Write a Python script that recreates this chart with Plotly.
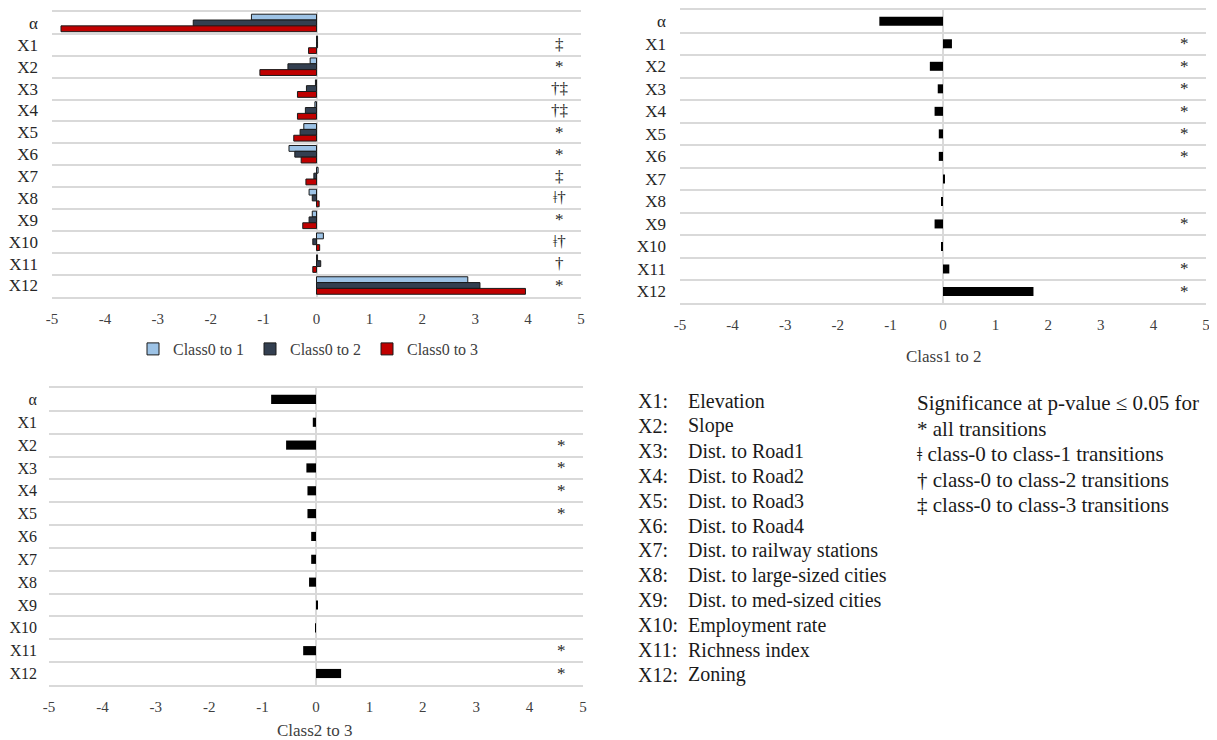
import plotly.graph_objects as go

categories = ["α", "X1", "X2", "X3", "X4", "X5", "X6", "X7", "X8", "X9", "X10", "X11", "X12"]

class0_to_1 = [-1.23, 0.02, -0.12, -0.02, -0.03, -0.24, -0.52, 0.03, -0.14, -0.08, 0.13, 0.02, 2.86]
class0_to_2 = [-2.33, 0.02, -0.54, -0.19, -0.21, -0.31, -0.41, -0.05, -0.08, -0.14, -0.07, 0.08, 3.09]
class0_to_3 = [-4.83, -0.15, -1.07, -0.36, -0.36, -0.43, -0.29, -0.20, 0.05, -0.26, 0.06, -0.07, 3.95]
class1_to_2 = [-1.21, 0.17, -0.25, -0.10, -0.16, -0.08, -0.08, 0.02, -0.02, -0.16, -0.03, 0.12, 1.72]
class2_to_3 = [-0.84, -0.06, -0.56, -0.18, -0.16, -0.16, -0.09, -0.09, -0.13, 0.02, -0.01, -0.24, 0.47]

sig_class0 = ["", "‡", "*", "†‡", "†‡", "*", "*", "‡", "ǂ†", "*", "ǂ†", "†", "*"]
sig_class1_2 = ["", "*", "*", "*", "*", "*", "*", "", "", "*", "", "*", "*"]
sig_class2_3 = ["", "", "*", "*", "*", "*", "", "", "", "", "", "*", "*"]

x_ticks = [-5, -4, -3, -2, -1, 0, 1, 2, 3, 4, 5]
x_tick_text = ["-5", "-4", "-3", "-2", "-1", "0", "1", "2", "3", "4", "5"]
sig_x = 4.6

var_labels = ["X1:", "X2:", "X3:", "X4:", "X5:", "X6:", "X7:", "X8:", "X9:", "X10:", "X11:", "X12:"]
var_names = ["Elevation", "Slope", "Dist. to Road1", "Dist. to Road2", "Dist. to Road3", "Dist. to Road4",
             "Dist. to railway stations", "Dist. to large-sized cities", "Dist. to med-sized cities",
             "Employment rate", "Richness index", "Zoning"]
sig_notes = ["Significance at p-value ≤ 0.05 for", "* all transitions", "ǂ class-0 to class-1 transitions",
             "† class-0 to class-2 transitions", "‡ class-0 to class-3 transitions"]

FONT = "Liberation Serif"
W, H = 1217, 740
OX, OY = 8, 8  # page body offset

fig = go.Figure()

series = [("Class0 to 1", class0_to_1, "#9dc3e6"),
          ("Class0 to 2", class0_to_2, "#333f50"),
          ("Class0 to 3", class0_to_3, "#c00000")]
for name, vals, col in series:
    fig.add_trace(go.Bar(y=categories, x=vals, orientation="h", name=name,
                         marker=dict(color=col, line=dict(color="#1a1a1a", width=1)),
                         xaxis="x", yaxis="y"))

fig.add_trace(go.Bar(y=categories, x=class1_to_2, orientation="h", name="Class1 to 2",
                     marker=dict(color="black", line=dict(width=0)), showlegend=False,
                     xaxis="x2", yaxis="y2", width=0.4))
fig.add_trace(go.Bar(y=categories, x=class2_to_3, orientation="h", name="Class2 to 3",
                     marker=dict(color="black", line=dict(width=0)), showlegend=False,
                     xaxis="x3", yaxis="y3", width=0.4))


def px_x(a):
    return (a - OX) / W


def px_y(b):
    return 1 - (b - OY) / H


def px_dom_x(a, b):
    return [px_x(a), px_x(b)]


def px_dom_y(top, bottom):
    return [px_y(bottom), px_y(top)]


xcommon = dict(range=[-5, 5], tickvals=x_ticks, ticktext=x_tick_text, showgrid=False, zeroline=True,
               zerolinecolor="#d9d9d9", zerolinewidth=1.5, showline=True, mirror=True,
               linecolor="#d9d9d9", linewidth=1.5, ticks="", ticklabelstandoff=7,
               automargin=False,
               tickfont=dict(family=FONT, size=15, color="#404040"), fixedrange=True)
ycommon = dict(type="category", categoryorder="array", categoryarray=categories, autorange="reversed",
               tickson="boundaries", showgrid=True, gridcolor="#d9d9d9", gridwidth=1.5, ticks="",
               showline=False, zeroline=False, automargin=False, fixedrange=True)

fig.update_layout(
    template="none",
    width=W, height=H, margin=dict(l=0, r=0, t=0, b=0, autoexpand=False),
    paper_bgcolor="white", plot_bgcolor="white",
    barmode="group", bargap=0.2, bargroupgap=0.0,
    font=dict(family=FONT, color="#262626"),
    xaxis=dict(domain=px_dom_x(52, 581), anchor="y", **xcommon),
    yaxis=dict(domain=px_dom_y(12, 297), anchor="x", ticklabelstandoff=13,
               tickfont=dict(family=FONT, size=17, color="#262626"), **ycommon),
    xaxis2=dict(domain=px_dom_x(680, 1206), anchor="y2", **xcommon),
    yaxis2=dict(domain=px_dom_y(10, 303), anchor="x2", ticklabelstandoff=13,
                tickfont=dict(family=FONT, size=17, color="#262626"), **ycommon),
    xaxis3=dict(domain=px_dom_x(49, 583), anchor="y3", **xcommon),
    yaxis3=dict(domain=px_dom_y(388, 685), anchor="x3", ticklabelstandoff=11,
                tickfont=dict(family=FONT, size=16, color="#262626"), **ycommon),
    legend=dict(orientation="h", x=px_x(133), xanchor="left", y=px_y(349), yanchor="middle",
                font=dict(family=FONT, size=16, color="#404040"), traceorder="normal",
                bgcolor="rgba(0,0,0,0)", itemwidth=30, entrywidth=72, entrywidthmode="pixels"),
    showlegend=True,
)

annotations = []
sig_font = dict(family=FONT, size=17, color="#262626")
for cat, s in zip(categories, sig_class0):
    if s:
        annotations.append(dict(x=sig_x, y=cat, xref="x", yref="y", text=s, showarrow=False, font=sig_font))
for cat, s in zip(categories, sig_class1_2):
    if s:
        annotations.append(dict(x=sig_x, y=cat, xref="x2", yref="y2", text=s, showarrow=False, font=sig_font))
for cat, s in zip(categories, sig_class2_3):
    if s:
        annotations.append(dict(x=sig_x, y=cat, xref="x3", yref="y3", text=s, showarrow=False, font=sig_font))

annotations.append(dict(x=px_x(944), y=px_y(356), xref="paper", yref="paper", text="Class1 to 2",
                        xanchor="center", yanchor="middle",
                        showarrow=False, font=dict(family=FONT, size=17, color="#404040")))
annotations.append(dict(x=px_x(315), y=px_y(730), xref="paper", yref="paper", text="Class2 to 3",
                        xanchor="center", yanchor="middle",
                        showarrow=False, font=dict(family=FONT, size=17, color="#404040")))

line_y0, line_dy = 401, 24.9
for i, (lab, nm) in enumerate(zip(var_labels, var_names)):
    yy = px_y(line_y0 + i * line_dy)
    annotations.append(dict(x=px_x(636), y=yy, xref="paper", yref="paper", text=lab, xanchor="left",
                            yanchor="middle", showarrow=False, font=dict(family=FONT, size=20, color="#1a1a1a")))
    annotations.append(dict(x=px_x(686), y=yy, xref="paper", yref="paper", text=nm, xanchor="left",
                            yanchor="middle", showarrow=False, font=dict(family=FONT, size=20, color="#1a1a1a")))

note_y0, note_dy = 403, 25.5
for i, t in enumerate(sig_notes):
    yy = px_y(note_y0 + i * note_dy)
    annotations.append(dict(x=px_x(915), y=yy, xref="paper", yref="paper", text=t, xanchor="left",
                            yanchor="middle", showarrow=False, font=dict(family=FONT, size=21, color="#1a1a1a")))

fig.update_layout(annotations=annotations)

fig.write_html("out.html")
